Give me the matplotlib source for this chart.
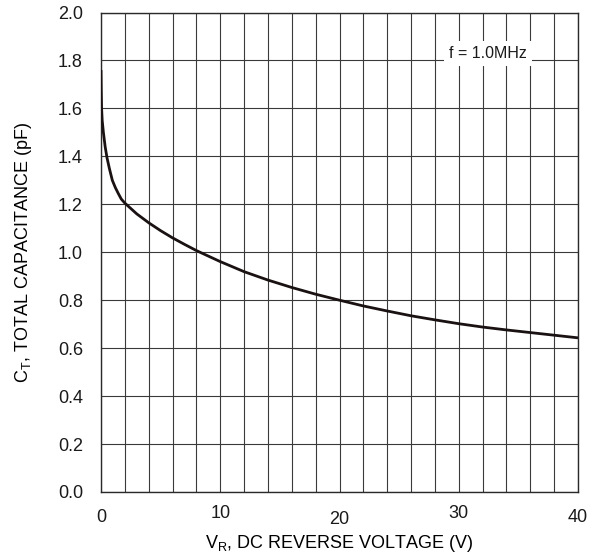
import matplotlib
matplotlib.use("Agg")
import matplotlib.pyplot as plt
from matplotlib.transforms import ScaledTranslation

# ---------- Data ----------
v_reverse = [0, 0.02, 0.05, 0.1, 0.2, 0.35, 0.5, 0.7, 0.95, 1.2, 1.45, 1.7, 2,
             3, 4, 5, 6, 7, 8, 10, 12, 14, 16, 18, 20,
             22, 24, 26, 28, 30, 32, 34, 36, 38, 40]
c_total = [1.76, 1.68, 1.60, 1.55, 1.50, 1.44, 1.395, 1.35, 1.30, 1.27, 1.245, 1.222, 1.205,
           1.16, 1.123, 1.09, 1.06, 1.033, 1.007, 0.961, 0.919, 0.884, 0.853, 0.825, 0.80,
           0.776, 0.755, 0.735, 0.718, 0.702, 0.688, 0.676, 0.665, 0.654, 0.643]

x_ticks = [0, 10, 20, 30, 40]
y_ticks = [0.0, 0.2, 0.4, 0.6, 0.8, 1.0, 1.2, 1.4, 1.6, 1.8, 2.0]
x_grid = list(range(0, 41, 2))

plt.rcParams["font.family"] = ["Liberation Sans", "DejaVu Sans"]
plt.rcParams["mathtext.fontset"] = "custom"
plt.rcParams["mathtext.rm"] = "Liberation Sans"

# ---------- Figure ----------
fig = plt.figure(figsize=(6.0, 5.58), dpi=100)
ax = fig.add_axes([101 / 600, 66 / 558, 477 / 600, 479.5 / 558])

grid_col = "#3a3a3a"
for x in x_grid:
    ax.axvline(x, color=grid_col, lw=0.8, zorder=1)
for y in y_ticks:
    ax.axhline(y, color=grid_col, lw=0.8, zorder=1)

ax.plot(v_reverse, c_total, color="#1a1212", lw=2.0,
        solid_joinstyle="round", solid_capstyle="butt", zorder=3)

ax.set_xlim(0, 40)
ax.set_ylim(0, 2.0)
ax.set_xticks(x_ticks)
ax.set_yticks(y_ticks)
ax.set_xticklabels([str(t) for t in x_ticks])
ax.set_yticklabels(["%.1f" % t for t in y_ticks])
ax.tick_params(axis="both", length=0, labelsize=13, colors="#1a1a1a")
ax.tick_params(axis="x", pad=12)
ax.tick_params(axis="y", pad=13)

# the datasheet has its x tick labels slightly staggered
offsets = [0, 2.4, -1.5, 2.4, 0]
for lab, dy in zip(ax.get_xticklabels(), offsets):
    lab.set_transform(lab.get_transform() + ScaledTranslation(0, dy / 72, fig.dpi_scale_trans))

for sp in ax.spines.values():
    sp.set_color("#2a2a2a")
    sp.set_linewidth(1.0)

ax.set_xlabel(r"V$_\mathregular{R}$, DC REVERSE VOLTAGE (V)", fontsize=13, va="center")
ax.xaxis.set_label_coords(0.5, (492 - 543) / 479.5)
ax.set_ylabel(r"C$_\mathregular{T}$, TOTAL CAPACITANCE (pF)", fontsize=13, va="center")
ax.yaxis.set_label_coords((24 - 101) / 477, 0.5)

ax.text(32.45, 1.83, "f = 1.0MHz", fontsize=11.5, ha="center", va="center",
        color="#1a1a1a", zorder=4,
        bbox=dict(boxstyle="square,pad=0.3", fc="white", ec="none"))

fig.savefig("out.png", dpi=100)
plt.close(fig)
